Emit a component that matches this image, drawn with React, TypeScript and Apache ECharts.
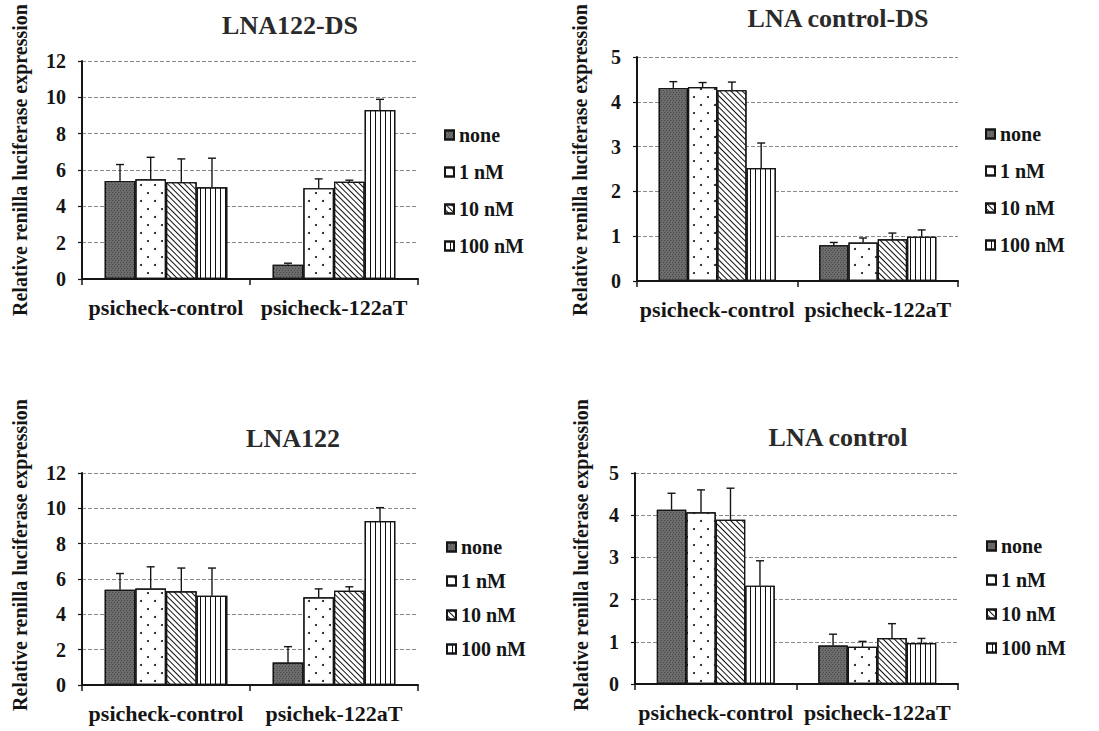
import React, { useEffect, useRef } from 'react';
import * as echarts from 'echarts';

// ---------- data ----------
const seriesNames = ['none', '1 nM', '10 nM', '100 nM'];
const categoriesStd = ['psicheck-control', 'psicheck-122aT'];
const categoriesAlt = ['psicheck-control', 'psichek-122aT'];
const panelTitles = ['LNA122-DS', 'LNA control-DS', 'LNA122', 'LNA control'];
const yAxisTitle = 'Relative renilla luciferase expression';
const yTicksWide = { max: 12, interval: 2 };
const yTicksNarrow = { max: 5, interval: 1 };

// Panel 1: LNA122-DS
const p1None = [5.4, 0.79];
const p1Nm1 = [5.49, 5.0];
const p1Nm10 = [5.33, 5.35];
const p1Nm100 = [5.05, 9.3];
const p1NoneErr = [0.9, 0.08];
const p1Nm1Err = [1.21, 0.51];
const p1Nm10Err = [1.28, 0.09];
const p1Nm100Err = [1.6, 0.59];

// Panel 2: LNA control-DS
const p2None = [4.31, 0.8];
const p2Nm1 = [4.33, 0.86];
const p2Nm10 = [4.26, 0.93];
const p2Nm100 = [2.52, 0.99];
const p2NoneErr = [0.14, 0.06];
const p2Nm1Err = [0.1, 0.1];
const p2Nm10Err = [0.18, 0.14];
const p2Nm100Err = [0.56, 0.15];

// Panel 3: LNA122
const p3None = [5.39, 1.27];
const p3Nm1 = [5.46, 4.97];
const p3Nm10 = [5.31, 5.33];
const p3Nm100 = [5.05, 9.28];
const p3NoneErr = [0.92, 0.9];
const p3Nm1Err = [1.23, 0.47];
const p3Nm10Err = [1.31, 0.23];
const p3Nm100Err = [1.57, 0.76];

// Panel 4: LNA control
const p4None = [4.13, 0.91];
const p4Nm1 = [4.07, 0.88];
const p4Nm10 = [3.89, 1.09];
const p4Nm100 = [2.33, 0.97];
const p4NoneErr = [0.39, 0.27];
const p4Nm1Err = [0.53, 0.13];
const p4Nm10Err = [0.75, 0.34];
const p4Nm100Err = [0.59, 0.11];

// ---------- layout / style ----------
const FONT = 'Liberation Serif, Times New Roman, serif';
const INK = '#151515';
const GAP = 0.27;

const panels = [
  {
    title: panelTitles[0], cats: categoriesStd, ticks: yTicksWide,
    values: [p1None, p1Nm1, p1Nm10, p1Nm100],
    errors: [p1NoneErr, p1Nm1Err, p1Nm10Err, p1Nm100Err],
    grid: { left: 82, top: 61, width: 336, height: 218 },
    titlePos: [290, 25], namePos: [20, 160],
    legend: { left: 444, top: 125, itemGap: 17 },
  },
  {
    title: panelTitles[1], cats: categoriesStd, ticks: yTicksNarrow,
    values: [p2None, p2Nm1, p2Nm10, p2Nm100],
    errors: [p2NoneErr, p2Nm1Err, p2Nm10Err, p2Nm100Err],
    grid: { left: 637, top: 57, width: 321, height: 224 },
    titlePos: [838, 18], namePos: [580, 160],
    legend: { left: 985, top: 124, itemGap: 17 },
  },
  {
    title: panelTitles[2], cats: categoriesAlt, ticks: yTicksWide,
    values: [p3None, p3Nm1, p3Nm10, p3Nm100],
    errors: [p3NoneErr, p3Nm1Err, p3Nm10Err, p3Nm100Err],
    grid: { left: 82, top: 473, width: 336, height: 212 },
    titlePos: [293, 438], namePos: [20, 555],
    legend: { left: 446, top: 537, itemGap: 14 },
  },
  {
    title: panelTitles[3], cats: categoriesStd, ticks: yTicksNarrow,
    values: [p4None, p4Nm1, p4Nm10, p4Nm100],
    errors: [p4NoneErr, p4Nm1Err, p4Nm10Err, p4Nm100Err],
    grid: { left: 635, top: 473, width: 323, height: 211 },
    titlePos: [838, 437], namePos: [581, 555],
    legend: { left: 986, top: 536, itemGap: 14 },
  },
];

const barStyles: any[] = [
  {
    color: '#6c6c6c',
    decal: {
      symbol: 'rect', symbolSize: 1, color: 'rgba(30,30,30,0.45)',
      dashArrayX: [[1, 2], [0, 1, 1, 1]], dashArrayY: [1, 1],
    },
  },
  {
    color: '#ffffff',
    decal: {
      symbol: 'circle', symbolSize: 1, color: '#111',
      dashArrayX: [[2, 12], [0, 7, 2, 5]], dashArrayY: [2, 6],
    },
  },
  {
    color: '#ffffff',
    decal: {
      symbol: 'rect', symbolSize: 1, color: '#111',
      dashArrayX: [1, 3], dashArrayY: [4, 0], rotation: -Math.PI / 4,
    },
  },
  {
    color: '#ffffff',
    decal: {
      symbol: 'rect', symbolSize: 1, color: '#111',
      dashArrayX: [1, 4], dashArrayY: [4, 0],
    },
  },
];

function buildOption() {
  const grid: any[] = [];
  const xAxis: any[] = [];
  const yAxis: any[] = [];
  const series: any[] = [];
  const legend: any[] = [];
  const graphic: any[] = [];

  panels.forEach((p, pi) => {
    grid.push({ ...p.grid, containLabel: false });
    xAxis.push({
      type: 'category', gridIndex: pi, data: p.cats,
      axisLine: { lineStyle: { color: INK, width: 2 } },
      axisTick: { show: true, length: 6, lineStyle: { color: INK, width: 1.5 } },
      axisLabel: {
        interval: 0, hideOverlap: false,
        fontFamily: FONT, fontWeight: 'bold', fontSize: 22, color: INK, margin: 17,
      },
      splitLine: { show: false },
    });
    yAxis.push({
      type: 'value', gridIndex: pi, min: 0, max: p.ticks.max, interval: p.ticks.interval,
      axisLine: { show: true, lineStyle: { color: INK, width: 2 } },
      axisTick: { show: true, length: 4, lineStyle: { color: INK, width: 1.2 } },
      axisLabel: { fontFamily: FONT, fontWeight: 'bold', fontSize: 20, color: INK, margin: 16 },
      splitLine: { show: true, lineStyle: { color: '#8a8a8a', width: 1, type: [4, 2] } },
    });
    p.values.forEach((vals, si) => {
      series.push({
        type: 'bar', name: seriesNames[si], xAxisIndex: pi, yAxisIndex: pi,
        data: vals, barGap: '0%', barCategoryGap: `${GAP * 100}%`,
        itemStyle: { ...barStyles[si], borderColor: INK, borderWidth: 1.2 },
        emphasis: { disabled: true },
      });
    });
    const errData: number[][] = [];
    p.values.forEach((vals, si) => vals.forEach((v, ci) => errData.push([ci, v, p.errors[si][ci], si])));
    const nBars = p.values.length;
    series.push({
      type: 'custom', name: `error-${pi}`, xAxisIndex: pi, yAxisIndex: pi, z: 5, silent: true,
      encode: { x: 0, y: 1 },
      data: errData,
      renderItem: (params: any, api: any) => {
        const c = api.value(0);
        const v = api.value(1);
        const e = api.value(2);
        const s = api.value(3);
        const base = api.coord([c, v]);
        const top = api.coord([c, v + e]);
        const band = api.size([1, 0])[0];
        const bw = (band * (1 - GAP)) / nBars;
        const x = base[0] + (s - (nBars - 1) / 2) * bw;
        const st = { stroke: INK, lineWidth: 1.4 };
        return {
          type: 'group',
          children: [
            { type: 'line', shape: { x1: x, y1: base[1], x2: x, y2: top[1] }, style: st },
            { type: 'line', shape: { x1: x - 4, y1: top[1], x2: x + 4, y2: top[1] }, style: st },
          ],
        };
      },
    });
    legend.push({
      orient: 'vertical', left: p.legend.left, top: p.legend.top, itemGap: p.legend.itemGap,
      padding: 0,
      data: seriesNames, icon: 'rect', itemWidth: 9, itemHeight: 9,
      textStyle: { fontFamily: FONT, fontWeight: 'bold', fontSize: 20, color: INK },
      selectedMode: false,
    });
    graphic.push({
      type: 'text', x: p.titlePos[0], y: p.titlePos[1], silent: true,
      style: {
        text: p.title, font: `bold 26px ${FONT}`, fill: '#2a2a2a',
        align: 'center', verticalAlign: 'middle', textAlign: 'center', textVerticalAlign: 'middle',
      },
    });
    graphic.push({
      type: 'text', x: p.namePos[0], y: p.namePos[1], rotation: Math.PI / 2, silent: true,
      style: {
        text: yAxisTitle, font: `bold 20px ${FONT}`, fill: INK,
        align: 'center', verticalAlign: 'middle', textAlign: 'center', textVerticalAlign: 'middle',
      },
    });
  });

  return {
    animation: false,
    backgroundColor: '#ffffff',
    textStyle: { fontFamily: FONT },
    grid, xAxis, yAxis, series, legend, graphic,
  };
}

export default function App() {
  const ref = useRef<HTMLDivElement>(null);
  useEffect(() => {
    if (!ref.current) return;
    const chart = echarts.init(ref.current, null, { renderer: 'svg' });
    chart.setOption(buildOption() as any);
    return () => chart.dispose();
  }, []);
  return (
    <div
      ref={ref}
      style={{ position: 'absolute', left: 0, top: 0, width: 1099, height: 731, background: '#fff' }}
    />
  );
}
